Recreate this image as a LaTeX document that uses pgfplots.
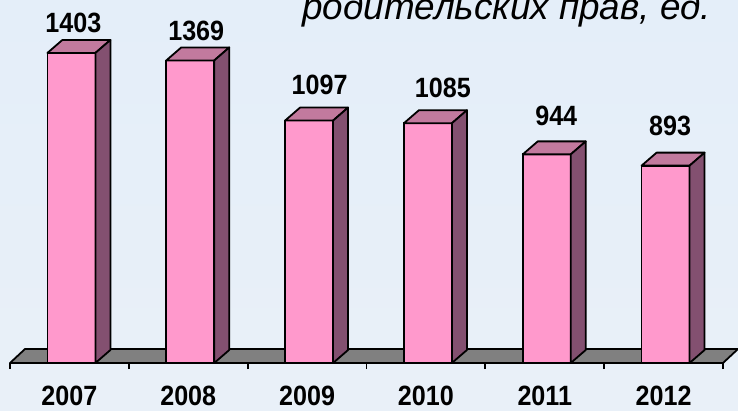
\documentclass[border=0pt]{standalone}
\usepackage{fontspec}
\setmainfont{Liberation Sans}
\newfontfamily\narrowbold[FakeStretch=0.9]{Liberation Sans Bold}
\usepackage{pgfplots}
\pgfplotsset{compat=1.18}
\usepackage{pgfplotstable}
\definecolor{frontc}{HTML}{FF99CC}
\definecolor{topc}{HTML}{C27A9E}
\definecolor{sidec}{HTML}{835070}
\definecolor{floorc}{HTML}{808080}
\definecolor{bgtop}{HTML}{E4EEF9}
\definecolor{bgbot}{HTML}{E9F0F8}

\pgfplotstableread{
x y lx ly
0 1403 4 30
1 1369 8 30
2 1097 12.5 35.5
3 1085 17 35.5
4 944 11.5 38.5
5 893 6.5 40
}\datatable

\pgfdeclareplotmark{cube3d}{%
  \pgfmathsetmacro\hh{-\rawy*0.221}%
  \pgfmathsetmacro\hb{13-\rawy*0.221}%
  \pgfsetroundjoin
  \pgfpathmoveto{\pgfqpoint{-22bp}{0bp}}%
  \pgfpathlineto{\pgfqpoint{26bp}{0bp}}%
  \pgfpathlineto{\pgfqpoint{41bp}{13bp}}%
  \pgfpathlineto{\pgfqpoint{-7bp}{13bp}}%
  \pgfpathclose
  \pgfsetfillcolor{topc}%
  \pgfusepath{fill,stroke}%
  \pgfpathmoveto{\pgfqpoint{26bp}{0bp}}%
  \pgfpathlineto{\pgfqpoint{41bp}{13bp}}%
  \pgfpathlineto{\pgfqpoint{41bp}{\hb bp}}%
  \pgfpathlineto{\pgfqpoint{26bp}{\hh bp}}%
  \pgfpathclose
  \pgfsetfillcolor{sidec}%
  \pgfusepath{fill,stroke}%
}

\begin{document}
\begin{tikzpicture}
\path[use as bounding box] (0bp,0bp) rectangle (738bp,411bp);
\begin{scope}
\clip (0bp,0bp) rectangle (738bp,411bp);
\shade[top color=bgtop, bottom color=bgbot] (0bp,0bp) rectangle (738bp,411bp);
\node[anchor=base west, font=\fontsize{37}{37}\selectfont\itshape, inner sep=0pt] at (302bp,391bp) {родительских прав, ед.};
\begin{axis}[
  at={(10bp,48bp)}, anchor=south west,
  scale only axis, width=713bp, height=364.65bp,
  xmin=-0.5, xmax=5.5, ymin=0, ymax=1650,
  axis x line*=bottom, axis y line=none,
  x axis line style={line width=1.8pt, black},
  xtick={0,...,5}, xticklabels={2007,2008,2009,2010,2011,2012},
  major tick length=0pt,
  minor xtick={-0.5,0.5,...,5.5}, minor tick length=6bp, tick align=outside,
  tick style={line width=1.8pt, black},
  xticklabel style={font=\fontsize{28}{28}\narrowbold, anchor=base, yshift=-42bp, inner sep=0pt},
  ytick=\empty,
  clip=false,
]
\fill[floorc, draw=black, line width=1.8pt, line join=round]
  (axis cs:-0.5,0) -- (axis cs:5.5,0) -- ([shift={(15bp,14bp)}]axis cs:5.5,0)
  -- ([shift={(15bp,14bp)}]axis cs:-0.5,0) -- cycle;
\addplot[ybar, bar width=48bp, bar shift=2bp, fill=frontc, draw=black, line width=1.8pt]
  table[x=x,y=y]{\datatable};
\addplot[only marks, mark=cube3d, mark options={draw=black, line width=1.8pt},
  visualization depends on={\thisrow{y} \as \rawy},
  visualization depends on={\thisrow{lx} \as \lx},
  visualization depends on={\thisrow{ly} \as \ly},
  point meta=explicit symbolic,
  nodes near coords,
  nodes near coords style={anchor=center, inner sep=0pt, xshift=\lx bp, yshift=\ly bp,
    font=\fontsize{28}{28}\narrowbold, text=black}]
  table[x=x,y=y,meta=y]{\datatable};
\end{axis}
\end{scope}
\end{tikzpicture}
\end{document}
